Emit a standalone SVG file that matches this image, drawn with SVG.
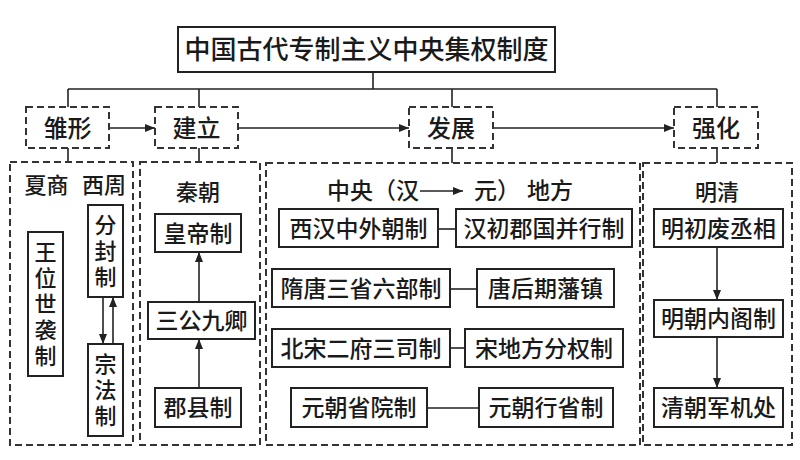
<svg xmlns="http://www.w3.org/2000/svg" width="800" height="460" viewBox="0 0 800 460">
<style>
text{font-family:"Noto Sans CJK SC","Noto Sans",sans-serif;fill:#1a1a1a;text-anchor:middle;font-weight:500}
.box{fill:#fff;stroke:#222;stroke-width:2}
.dash{fill:none;stroke:#333;stroke-width:2;stroke-dasharray:7 4}
.ln{fill:none;stroke:#222;stroke-width:1.6}
.t{font-size:23px}
.st{font-size:24px}
.h{font-size:22px}
.v{font-size:22px;writing-mode:vertical-rl;letter-spacing:4px}
</style>
<defs>
<marker id="ah" viewBox="0 0 10 8" refX="10" refY="4" markerWidth="10" markerHeight="8" markerUnits="userSpaceOnUse" orient="auto"><path d="M0,0 L10,4 L0,8 z" fill="#222"/></marker>
</defs>
<rect width="800" height="460" fill="#fff"/>

<g id="connectors">
<path class="ln" d="M373,72 V89 M68,89 H717 M68,89 V107 M199,89 V107 M452,89 V107 M717,89 V107"/>
<path class="ln" d="M68,148 V162 M199,148 V162 M452,148 V163 M717,148 V163"/>
<line class="ln" x1="109" y1="128" x2="155" y2="128" marker-end="url(#ah)"/>
<line class="ln" x1="238" y1="128" x2="409" y2="128" marker-end="url(#ah)"/>
<line class="ln" x1="493" y1="128" x2="674" y2="128" marker-end="url(#ah)"/>
<line class="ln" x1="103" y1="297" x2="103" y2="344" marker-end="url(#ah)"/>
<line class="ln" x1="113" y1="344" x2="113" y2="297" marker-end="url(#ah)"/>
<line class="ln" x1="199" y1="388" x2="199" y2="339" marker-end="url(#ah)"/>
<line class="ln" x1="199" y1="302" x2="199" y2="252" marker-end="url(#ah)"/>
<line class="ln" x1="420" y1="191" x2="463" y2="191" marker-end="url(#ah)"/>
<line class="ln" x1="438" y1="229" x2="456" y2="229"/>
<line class="ln" x1="450" y1="289" x2="477" y2="289"/>
<line class="ln" x1="450" y1="348" x2="465" y2="348"/>
<line class="ln" x1="427" y1="408" x2="479" y2="408"/>
<line class="ln" x1="717" y1="247" x2="717" y2="300" marker-end="url(#ah)"/>
<line class="ln" x1="717" y1="337" x2="717" y2="388" marker-end="url(#ah)"/>
</g>

<g id="title"><rect class="box" x="178" y="27" width="377" height="45"/><text x="366.5" y="59" style="font-size:26px">中国古代专制主义中央集权制度</text></g>

<g id="stage-chuxing"><rect class="dash" x="26" y="107" width="83" height="41"/><text class="st" x="67.5" y="136.5">雏形</text></g>
<g id="stage-jianli"><rect class="dash" x="155" y="107" width="83" height="41"/><text class="st" x="196.5" y="136.5">建立</text></g>
<g id="stage-fazhan"><rect class="dash" x="409" y="107" width="84" height="41"/><text class="st" x="451" y="136.5">发展</text></g>
<g id="stage-qianghua"><rect class="dash" x="674" y="107" width="84" height="41"/><text class="st" x="716" y="136.5">强化</text></g>

<g id="group-xiashang">
<rect class="dash" x="10" y="162" width="123" height="283"/>
<text class="h" y="193"><tspan x="46.5">夏商</tspan><tspan x="104">西周</tspan></text>
</g>
<g id="node-wangwei"><rect class="box" x="28" y="232" width="35" height="144"/>
<text class="v" x="45.5" y="306">王位世袭制</text></g>
<g id="node-fenfeng"><rect class="box" x="88" y="205" width="35" height="92"/>
<text class="v" x="105.5" y="253">分封制</text></g>
<g id="node-zongfa"><rect class="box" x="88" y="344" width="35" height="92"/>
<text class="v" x="105.5" y="392">宗法制</text></g>

<g id="group-qin">
<rect class="dash" x="140" y="162" width="120" height="283"/>
<text class="h" x="198" y="200">秦朝</text>
</g>
<g id="node-huangdi"><rect class="box" x="155" y="214" width="86" height="38"/><text class="t" x="198" y="241.5">皇帝制</text></g>
<g id="node-sangong"><rect class="box" x="148" y="302" width="107" height="37"/><text class="t" x="201.5" y="329">三公九卿</text></g>
<g id="node-junxian"><rect class="box" x="155" y="388" width="86" height="39"/><text class="t" x="198" y="416">郡县制</text></g>

<g id="group-hanyuan">
<rect class="dash" x="266" y="163" width="374" height="282"/>
<text class="t" style="text-anchor:start" y="199"><tspan x="327">中央（汉</tspan><tspan x="474">元）</tspan><tspan x="527">地方</tspan></text>
</g>
<g id="node-xihan"><rect class="box" x="279" y="209" width="159" height="38"/><text class="t" x="358.5" y="236.5">西汉中外朝制</text></g>
<g id="node-hanchu"><rect class="box" x="456" y="209" width="176" height="38"/><text class="t" x="544" y="236.5">汉初郡国并行制</text></g>
<g id="node-suitang"><rect class="box" x="272" y="269" width="178" height="38"/><text class="t" x="361" y="296.5">隋唐三省六部制</text></g>
<g id="node-fanzhen"><rect class="box" x="477" y="269" width="137" height="38"/><text class="t" x="545.5" y="296.5">唐后期藩镇</text></g>
<g id="node-beisong"><rect class="box" x="272" y="329" width="178" height="38"/><text class="t" x="361" y="356.5">北宋二府三司制</text></g>
<g id="node-songdifang"><rect class="box" x="465" y="329" width="158" height="38"/><text class="t" x="544" y="356.5">宋地方分权制</text></g>
<g id="node-shengyuan"><rect class="box" x="291" y="388" width="136" height="39"/><text class="t" x="359" y="416">元朝省院制</text></g>
<g id="node-xingsheng"><rect class="box" x="479" y="388" width="134" height="39"/><text class="t" x="546" y="416">元朝行省制</text></g>

<g id="group-mingqing">
<rect class="dash" x="643" y="163" width="149" height="282"/>
<text class="h" x="717" y="200">明清</text>
</g>
<g id="node-feichengxiang"><rect class="box" x="654" y="209" width="129" height="38"/><text class="t" x="718.5" y="236.5">明初废丞相</text></g>
<g id="node-neige"><rect class="box" x="654" y="300" width="129" height="37"/><text class="t" x="718.5" y="327">明朝内阁制</text></g>
<g id="node-junjichu"><rect class="box" x="654" y="388" width="129" height="39"/><text class="t" x="718.5" y="416">清朝军机处</text></g>
</svg>
